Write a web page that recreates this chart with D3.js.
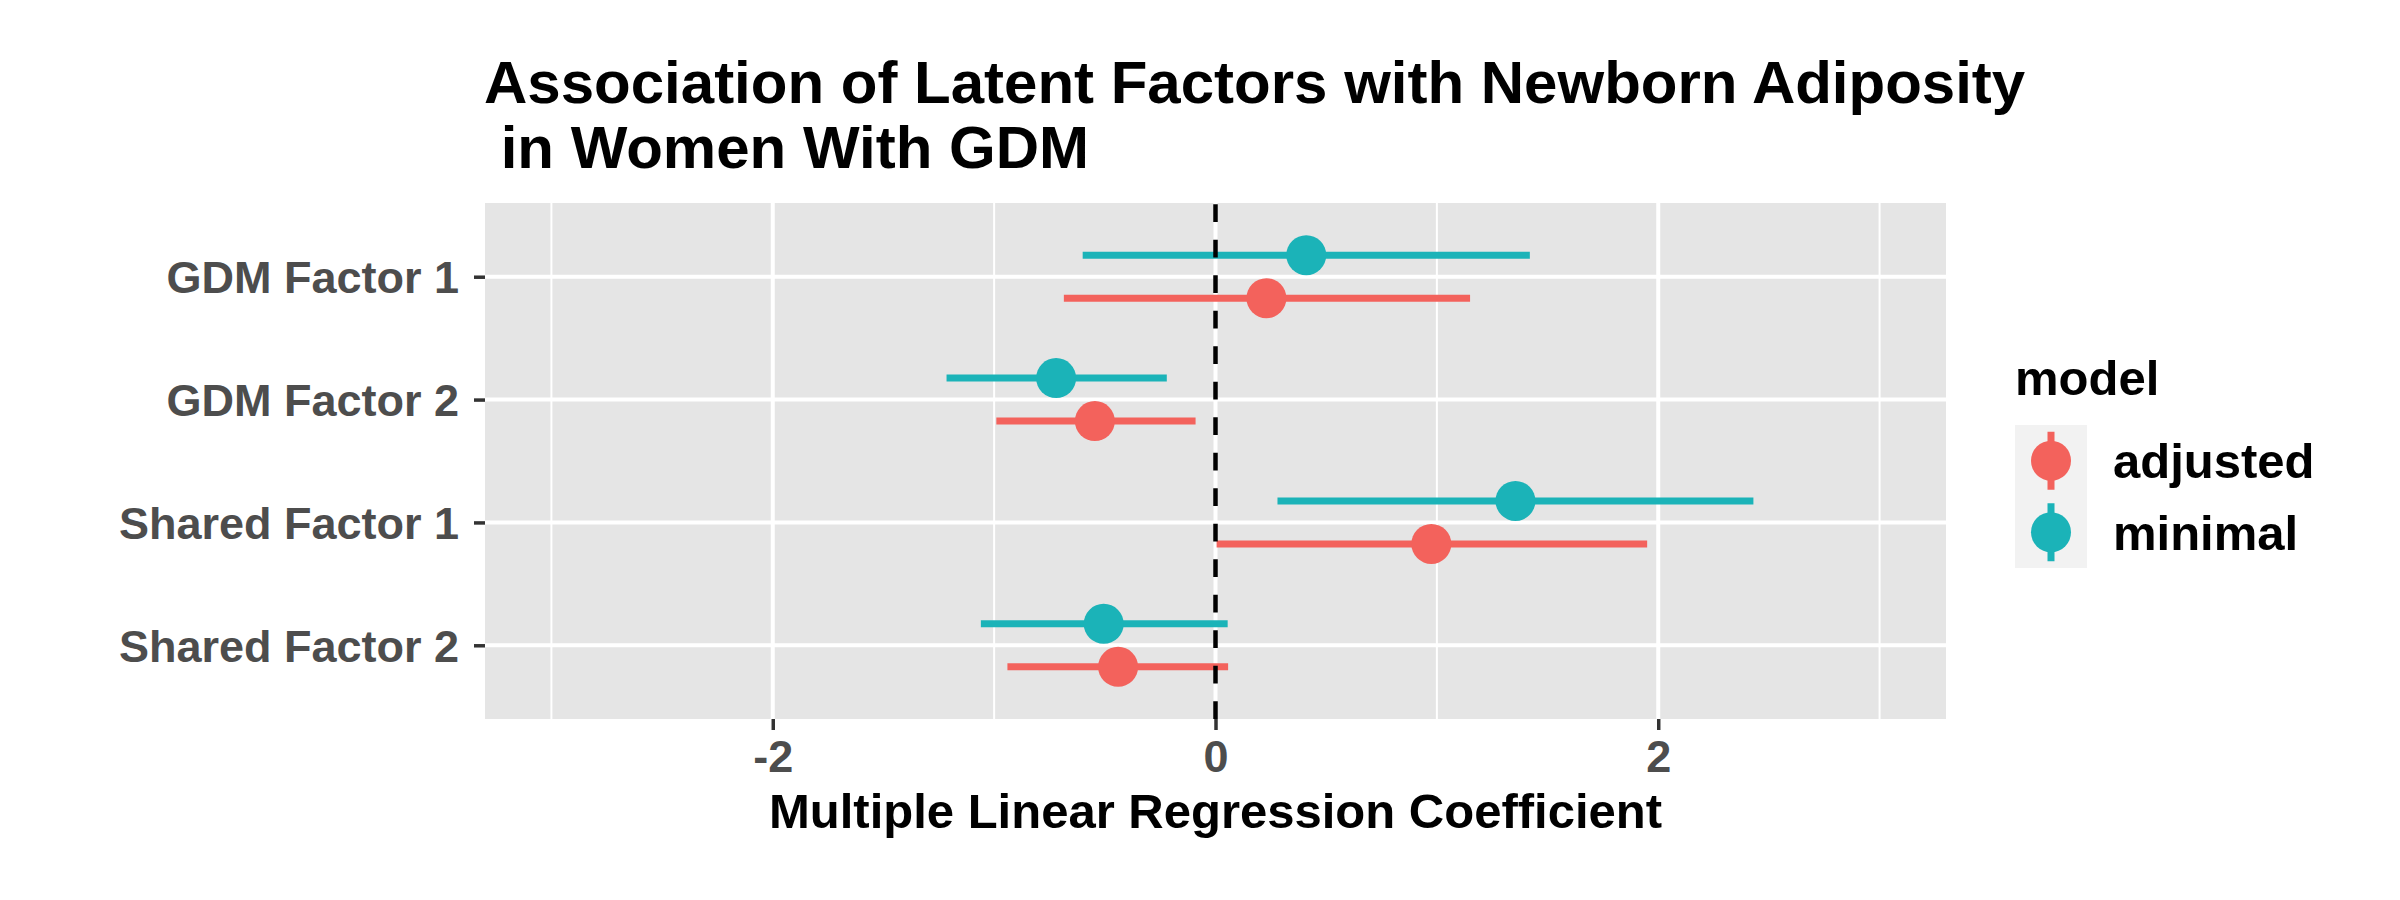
<!DOCTYPE html>
<html>
<head>
<meta charset="utf-8">
<script src="https://cdn.jsdelivr.net/npm/d3@7"></script>
<style>
  html, body { margin: 0; padding: 0; background: #fff; }
  svg { display: block; font-family: "Liberation Sans", Arial, Helvetica, sans-serif; font-weight: bold; }
</style>
</head>
<body>
<svg id="chart" width="2400" height="900"></svg>
<script>
// ---- data ----
const categories = ["GDM Factor 1", "GDM Factor 2", "Shared Factor 1", "Shared Factor 2"];
const models = ["adjusted", "minimal"];
const adjustedEst = [0.23, -0.545, 0.975, -0.44];
const adjustedLo  = [-0.685, -0.99, 0.005, -0.94];
const adjustedHi  = [1.15, -0.09, 1.95, 0.057];
const minimalEst  = [0.41, -0.72, 1.355, -0.505];
const minimalLo   = [-0.60, -1.215, 0.28, -1.06];
const minimalHi   = [1.42, -0.22, 2.43, 0.055];
const xMajorTicks = [-2, 0, 2];
const xMinorTicks = [-3, -1, 1, 3];
const titleLines = ["Association of Latent Factors with Newborn Adiposity", " in Women With GDM"];
const xTitle = "Multiple Linear Regression Coefficient";
const legendTitle = "model";

// ---- layout ----
const W = 2400, H = 900;
const panel = { left: 485, right: 1946, top: 203, bottom: 719 };
const colors = { adjusted: "#F3625C", minimal: "#1BB3B8" };

const svg = d3.select("#chart");

const x = d3.scaleLinear().domain([-3.3, 3.3]).range([panel.left, panel.right]);
const y = d3.scalePoint().domain(categories).range([panel.top, panel.bottom]).padding(0.6);
const dodge = d3.scaleOrdinal().domain(models).range([0.175, -0.175]);
const color = d3.scaleOrdinal().domain(models).range([colors.adjusted, colors.minimal]);

const rows = [];
categories.forEach((c, i) => {
  rows.push({ cat: c, model: "adjusted", est: adjustedEst[i], lo: adjustedLo[i], hi: adjustedHi[i] });
  rows.push({ cat: c, model: "minimal", est: minimalEst[i], lo: minimalLo[i], hi: minimalHi[i] });
});
const yPos = d => y(d.cat) + dodge(d.model) * y.step();

// panel background
svg.append("rect")
  .attr("x", panel.left).attr("y", panel.top)
  .attr("width", panel.right - panel.left).attr("height", panel.bottom - panel.top)
  .attr("fill", "#E5E5E5");

// gridlines
const grid = svg.append("g");
grid.selectAll("line.minor").data(xMinorTicks).join("line")
  .attr("x1", d => x(d)).attr("x2", d => x(d))
  .attr("y1", panel.top).attr("y2", panel.bottom)
  .attr("stroke", "#fff").attr("stroke-width", 2);
grid.selectAll("line.majx").data(xMajorTicks).join("line")
  .attr("x1", d => x(d)).attr("x2", d => x(d))
  .attr("y1", panel.top).attr("y2", panel.bottom)
  .attr("stroke", "#fff").attr("stroke-width", 4);
grid.selectAll("line.majy").data(categories).join("line")
  .attr("x1", panel.left).attr("x2", panel.right)
  .attr("y1", d => y(d)).attr("y2", d => y(d))
  .attr("stroke", "#fff").attr("stroke-width", 4);

// pointranges
const pr = svg.append("g");
models.forEach(m => {
  const g = pr.append("g");
  const data = rows.filter(r => r.model === m);
  g.selectAll("line").data(data).join("line")
    .attr("x1", d => x(d.lo)).attr("x2", d => x(d.hi))
    .attr("y1", yPos).attr("y2", yPos)
    .attr("stroke", d => color(d.model)).attr("stroke-width", 7);
  g.selectAll("circle").data(data).join("circle")
    .attr("cx", d => x(d.est)).attr("cy", yPos).attr("r", 20)
    .attr("fill", d => color(d.model));
});

// dashed zero line (drawn bottom to top)
svg.append("line")
  .attr("x1", x(0)).attr("x2", x(0))
  .attr("y1", panel.bottom).attr("y2", panel.top)
  .attr("stroke", "#000").attr("stroke-width", 4.5)
  .attr("stroke-dasharray", "17.75,17.75");

// axes
const xAxis = svg.append("g")
  .attr("transform", `translate(0,${panel.bottom})`)
  .call(d3.axisBottom(x).tickValues(xMajorTicks).tickSize(11).tickPadding(10).tickFormat(d3.format("d")));
const yAxis = svg.append("g")
  .attr("transform", `translate(${panel.left},0)`)
  .call(d3.axisLeft(y).tickSize(11).tickPadding(15));
[xAxis, yAxis].forEach(a => {
  a.select(".domain").remove();
  a.selectAll(".tick line").attr("stroke", "#333333").attr("stroke-width", 3.5);
  a.selectAll(".tick text")
    .attr("fill", "#4D4D4D")
    .style("font-family", "'Liberation Sans', Arial, sans-serif")
    .style("font-weight", "bold")
    .style("font-size", "45px");
});
xAxis.selectAll(".tick text").attr("dy", "0.72em").attr("y", 21);
xAxis.selectAll(".tick text").text(d => d < 0 ? "-" + Math.abs(d) : String(d));
yAxis.selectAll(".tick text").attr("dy", "0.35em");

// x axis title
svg.append("text")
  .attr("x", (panel.left + panel.right) / 2).attr("y", 828)
  .attr("text-anchor", "middle")
  .attr("fill", "#000").style("font-size", "49px")
  .text(xTitle);

// title
const title = svg.append("text").attr("fill", "#000").style("font-size", "60px").style("white-space", "pre");
titleLines.forEach((t, i) => {
  title.append("tspan").attr("x", 484).attr("y", 103 + i * 64.5).text(t);
});

// legend
const lg = svg.append("g");
lg.append("text").attr("x", 2015).attr("y", 395).attr("fill", "#000").style("font-size", "49px").text(legendTitle);
const keyY = d3.scaleBand().domain(models).range([425, 568]);
lg.append("rect").attr("x", 2015).attr("y", 425).attr("width", 72).attr("height", 143).attr("fill", "#F2F2F2");
models.forEach(m => {
  const cy = keyY(m) + keyY.bandwidth() / 2;
  lg.append("line").attr("x1", 2051).attr("x2", 2051).attr("y1", cy - 29).attr("y2", cy + 29)
    .attr("stroke", color(m)).attr("stroke-width", 7);
  lg.append("circle").attr("cx", 2051).attr("cy", cy).attr("r", 20).attr("fill", color(m));
  lg.append("text").attr("x", 2113).attr("y", cy + 17.5).attr("fill", "#000").style("font-size", "49px").text(m);
});
</script>
</body>
</html>
